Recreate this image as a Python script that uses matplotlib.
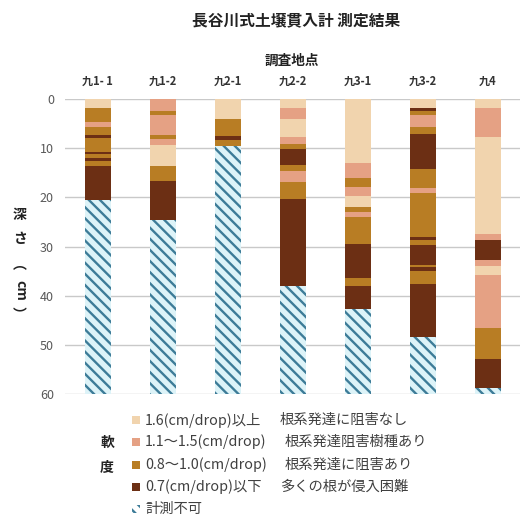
import matplotlib
matplotlib.use('Agg')
import matplotlib.pyplot as plt
from matplotlib.patches import Rectangle

plt.rcParams['font.family'] = ['Noto Sans CJK JP', 'DejaVu Sans']
plt.rcParams['hatch.linewidth'] = 1.7

# survey sites
sites = ['九1- 1', '九1-2', '九2-1', '九2-2', '九3-1', '九3-2', '九4']

# layer boundaries (cm) and softness class of each layer, per site
# A:1.6以上  B:1.1~1.5  C:0.8~1.0  D:0.7以下  X:計測不可
k11_depth = [0, 1.8, 4.6, 5.6, 7.4, 8.0, 10.7, 11.2, 12.0, 12.7, 13.7, 20.5, 60]
k11_class = ['A', 'C', 'B', 'C', 'D', 'C', 'D', 'C', 'D', 'C', 'D', 'X']
k12_depth = [0, 2.4, 3.3, 7.3, 8.2, 9.3, 13.7, 16.6, 24.7, 60]
k12_class = ['B', 'C', 'B', 'C', 'B', 'A', 'C', 'D', 'X']
k21_depth = [0, 4.0, 7.6, 8.3, 9.5, 60]
k21_class = ['A', 'C', 'D', 'C', 'X']
k22_depth = [0, 1.75, 4.1, 7.8, 9.1, 10.1, 13.5, 14.6, 16.8, 20.3, 38.1, 60]
k22_class = ['A', 'B', 'A', 'B', 'C', 'D', 'C', 'B', 'C', 'D', 'X']
k31_depth = [0, 13.0, 16.0, 17.8, 19.8, 21.9, 22.9, 23.9, 29.5, 36.4, 38.1, 42.8, 60]
k31_class = ['A', 'B', 'C', 'B', 'A', 'C', 'B', 'C', 'D', 'C', 'D', 'X']
k32_depth = [0, 1.9, 2.4, 3.25, 5.6, 7.2, 14.2, 18.0, 19.1, 28.1, 28.7, 29.6,
             33.8, 34.2, 35.0, 37.7, 48.5, 60]
k32_class = ['A', 'D', 'C', 'B', 'C', 'D', 'C', 'B', 'C', 'D', 'C', 'D',
             'C', 'D', 'C', 'D', 'X']
k4_depth = [0, 1.9, 7.8, 27.4, 28.7, 32.7, 34.0, 35.7, 46.5, 52.9, 58.7, 60]
k4_class = ['A', 'B', 'A', 'B', 'D', 'B', 'A', 'B', 'C', 'D', 'X']

all_depth = [k11_depth, k12_depth, k21_depth, k22_depth, k31_depth, k32_depth, k4_depth]
all_class = [k11_class, k12_class, k21_class, k22_class, k31_class, k32_class, k4_class]

yticks = [0, 10, 20, 30, 40, 50, 60]

legend_range = ['1.6(cm/drop)以上', '1.1～1.5(cm/drop)', '0.8～1.0(cm/drop)', '0.7(cm/drop)以下']
legend_note = ['根系発達に阻害なし', '根系発達阻害樹種あり', '根系発達に阻害あり', '多くの根が侵入困難']

colors = {'A': '#F1D4AE', 'B': '#E5A184', 'C': '#B87D24', 'D': '#6C2F14'}
hatch_col = '#3D7C98'
hatch_bg = '#DDF3F8'

W, H = 526, 527
fig = plt.figure(figsize=(W / 100, H / 100), dpi=100)
ax = fig.add_axes([65 / W, 1 - 394 / H, 455 / W, 295 / H])

for i in range(len(sites)):
    d = all_depth[i]
    c = all_class[i]
    for j in range(len(c)):
        if c[j] == 'X':
            ax.bar(i, d[j + 1] - d[j], bottom=d[j], width=0.4, color=hatch_bg,
                   edgecolor=hatch_col, linewidth=0, hatch='\\' * 3, zorder=2)
        else:
            ax.bar(i, d[j + 1] - d[j], bottom=d[j], width=0.4, color=colors[c[j]],
                   linewidth=0, zorder=2)

ax.set_xlim(-0.5, 6.5)
ax.set_ylim(60, 0)
ax.set_yticks(yticks)
ax.yaxis.grid(True, color='#c9c9c9', linewidth=1.0, zorder=0)
ax.set_axisbelow(True)
for s in ax.spines.values():
    s.set_visible(False)
ax.xaxis.tick_top()
ax.set_xticks(range(len(sites)))
ax.set_xticklabels(sites, fontsize=8, fontweight='bold', color='#333333')
ax.tick_params(axis='x', length=0, pad=8)
ax.tick_params(axis='y', length=0, pad=8, labelsize=9, labelcolor='#595959')

def fx(x):
    return x / W

def fy(y):
    return 1 - y / H

fig.text(fx(296), fy(20), '長谷川式土壌貫入計 測定結果', ha='center', va='center',
         fontsize=11.3, fontweight='bold', color='#222222')
fig.text(fx(292), fy(61), '調査地点', ha='center', va='center',
         fontsize=9.8, fontweight='bold', color='#222222')

# vertical y label
fig.text(fx(20), fy(215), '深', ha='center', va='center', fontsize=10, fontweight='bold', color='#222222')
fig.text(fx(20), fy(239), 'さ', ha='center', va='center', fontsize=10, fontweight='bold', color='#222222')
fig.text(fx(20), fy(265), '︵', ha='center', va='center', fontsize=10, fontweight='bold', color='#222222')
fig.text(fx(20), fy(290), 'cm', ha='center', va='center', fontsize=10, fontweight='bold',
         rotation=-90, color='#222222')
fig.text(fx(20), fy(315), '︶', ha='center', va='center', fontsize=10, fontweight='bold', color='#222222')

# legend
rows = [420, 442, 465, 487, 509]
note_x = [280, 285, 285, 280]
cls = ['A', 'B', 'C', 'D']
for k in range(4):
    fig.add_artist(Rectangle((fx(132), fy(rows[k] + 4)), 8 / W, 8 / H,
                             transform=fig.transFigure, facecolor=colors[cls[k]], linewidth=0))
    fig.text(fx(145), fy(rows[k]), legend_range[k], ha='left', va='center',
             fontsize=10.3, color='#404040')
    fig.text(fx(note_x[k]), fy(rows[k]), legend_note[k], ha='left', va='center',
             fontsize=10.3, color='#404040')
fig.add_artist(Rectangle((fx(132), fy(rows[4] + 4)), 8 / W, 8 / H,
                         transform=fig.transFigure, facecolor='white', edgecolor=hatch_col,
                         linewidth=0, hatch='\\' * 3))
fig.text(fx(145), fy(rows[4]), '計測不可', ha='left', va='center', fontsize=10.3, color='#404040')

fig.text(fx(107), fy(443), '軟', ha='center', va='center', fontsize=10, fontweight='bold', color='#222222')
fig.text(fx(107), fy(468), '度', ha='center', va='center', fontsize=10, fontweight='bold', color='#222222')

fig.savefig('out.png', dpi=100)
